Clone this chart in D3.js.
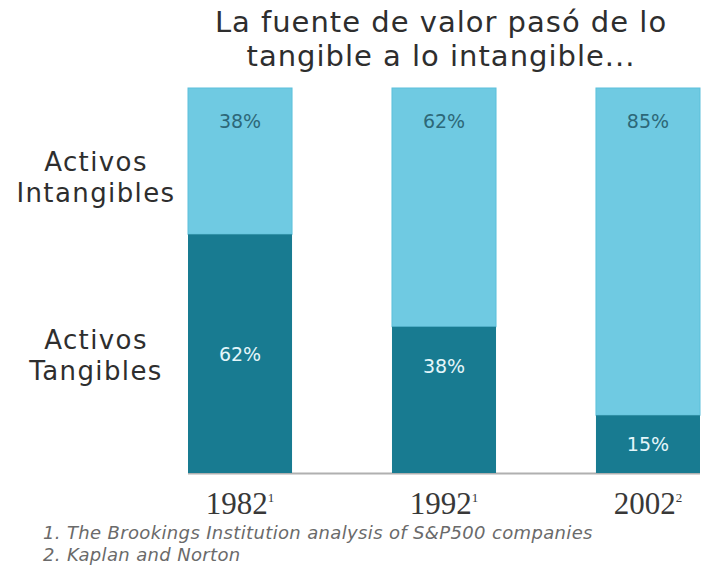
<!DOCTYPE html>
<html><head><meta charset="utf-8">
<script src="https://cdn.jsdelivr.net/npm/d3@7"></script>
<style>body{margin:0;background:#fff}svg{display:block}</style>
</head><body>
<script>
const years = ["1982", "1992", "2002"];
const yearNotes = ["1", "1", "2"];
const tangibles = [62, 38, 15];
const intangibles = [38, 62, 85];
const titleLines = ["La fuente de valor pasó de lo", "tangible a lo intangible..."];
const footnotes = ["1. The Brookings Institution analysis of S&P500 companies", "2. Kaplan and Norton"];

const W = 706, H = 567;
const svg = d3.select("body").append("svg").attr("width", W).attr("height", H);

const x = d3.scaleBand().domain(years).range([188, 700]).paddingInner(0.49).paddingOuter(0);
const y = d3.scaleLinear().domain([0, 100]).range([473, 88]);

const light = "#6fcae2", dark = "#187b91";

// baseline
svg.append("line").attr("x1", 188).attr("x2", 700).attr("y1", y(0)+0.5).attr("y2", y(0)+0.5)
  .attr("stroke", "#b0b0b0").attr("stroke-width", 2);

const g = svg.selectAll("g.bar").data(years).join("g").attr("class", "bar");
g.append("rect").attr("x", d => x(d)).attr("width", x.bandwidth())
  .attr("y", (d, i) => y(100)).attr("height", (d, i) => y(tangibles[i]) - y(100))
  .attr("fill", light).attr("stroke", "#5cc0db").attr("stroke-width", 1);
g.append("rect").attr("x", d => x(d)).attr("width", x.bandwidth())
  .attr("y", (d, i) => y(tangibles[i])).attr("height", (d, i) => y(0) - y(tangibles[i]))
  .attr("fill", dark);

g.append("text").attr("x", d => x(d) + x.bandwidth()/2).attr("y", (d, i) => y(100) + 40)
  .attr("text-anchor", "middle").attr("font-family", "DejaVu Sans").attr("font-size", 19)
  .attr("fill", "#2d6878").text((d, i) => intangibles[i] + "%");
g.append("text").attr("x", d => x(d) + x.bandwidth()/2)
  .attr("y", (d, i) => {
    const top = y(tangibles[i]), mid = (y(tangibles[i]) + y(0)) / 2 + 7;
    return Math.min(Math.max(top + 46, 363), mid);
  })
  .attr("text-anchor", "middle").attr("font-family", "DejaVu Sans").attr("font-size", 19)
  .attr("fill", "#e4f6fa").text((d, i) => tangibles[i] + "%");

// year labels
const yl = svg.selectAll("text.year").data(years).join("text").attr("class", "year")
  .attr("x", d => x(d) + x.bandwidth()/2).attr("y", 514)
  .attr("text-anchor", "middle").attr("font-family", "Liberation Serif").attr("font-size", 31)
  .attr("fill", "#383838");
yl.append("tspan").text(d => d);
yl.append("tspan").attr("dy", -12).attr("font-size", 13).text((d, i) => yearNotes[i]);

// title
svg.selectAll("text.title").data(titleLines).join("text").attr("class", "title")
  .attr("x", 441).attr("y", (d, i) => 32 + i * 34).attr("text-anchor", "middle")
  .attr("font-family", "DejaVu Sans").attr("font-size", 29).attr("letter-spacing", 1)
  .attr("fill", "#2e2e2e").text(d => d);

// left labels
const leftLabels = [["Activos", "Intangibles"], ["Activos", "Tangibles"]];
const leftY = [171, 349];
leftLabels.forEach((lines, k) => {
  svg.append("g").selectAll("text").data(lines).join("text")
    .attr("x", 96).attr("y", (d, i) => leftY[k] + i * 31).attr("text-anchor", "middle")
    .attr("font-family", "DejaVu Sans").attr("font-size", 26).attr("letter-spacing", 1.4)
    .attr("fill", "#2e2e2e").text(d => d);
});

// footnotes
svg.selectAll("text.fn").data(footnotes).join("text").attr("class", "fn")
  .attr("x", 43).attr("y", (d, i) => 539 + i * 22)
  .attr("font-family", "DejaVu Sans").attr("font-style", "italic").attr("font-size", 18)
  .attr("letter-spacing", 0.35)
  .attr("fill", "#6a6a6a").text(d => d);
</script>
</body></html>
